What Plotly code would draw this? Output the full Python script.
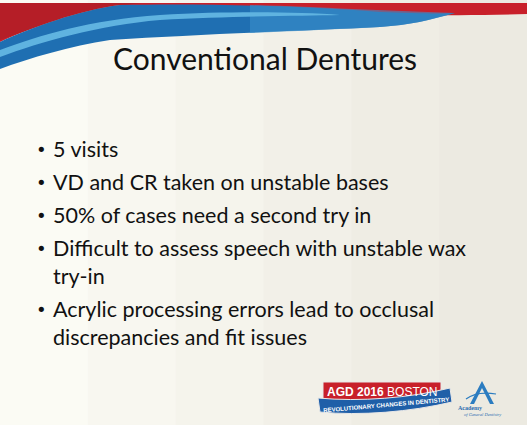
import plotly.graph_objects as go

# ---- slide content ----
title_text = "Conventional Dentures"
bullet_items = [
    ["5 visits"],
    ["VD and CR taken on unstable bases"],
    ["50% of cases need a second try in"],
    ["Difficult to assess speech with unstable wax", "try-in"],
    ["Acrylic processing errors lead to occlusal", "discrepancies and fit issues"],
]
logo_main = ["AGD 2016", "BOSTON"]
logo_ribbon = "REVOLUTIONARY CHANGES IN DENTISTRY"
academy_lines = ["Academy", "of General Dentistry"]

W, H = 527, 425
FONT = "Lato"

fig = go.Figure()

shapes = []
# background gradient (left lighter, right greyer)
bg_cols = ["#fbfbf4", "#f8f7f0", "#f5f4ec", "#f2f0e8", "#efede4", "#eceae1"]
n = len(bg_cols)
for i, c in enumerate(bg_cols):
    shapes.append(dict(type="rect", x0=i * W / n, x1=(i + 1) * W / n + 1, y0=0, y1=H,
                       fillcolor=c, line=dict(width=0), layer="below"))

# red band
shapes.append(dict(type="path",
                   path="M0,3 L527,3 L527,14 C470,16 420,15 380,14 C300,12 200,4 120,5 C80,10 30,28 0,42 Z",
                   fillcolor="#c8202a", line=dict(width=0), layer="below"))
shapes.append(dict(type="path",
                   path="M0,3 L140,3 C100,8 40,25 0,40 Z",
                   fillcolor="#a81e26", opacity=0.6, line=dict(width=0), layer="below"))
# blue band
shapes.append(dict(type="path",
                   path="M0,42 C30,28 80,10 120,5 C200,3 300,6 380,12 C410,13 440,14 455,13 "
                        "C430,20 410,25 380,27 C300,31 200,34 110,40 C70,46 30,58 0,69 Z",
                   fillcolor="#1f6fb2", line=dict(width=0), layer="below"))
shapes.append(dict(type="path",
                   path="M250,5 C320,7 380,11 455,13 C430,20 410,25 380,27 C330,30 290,31 250,33 Z",
                   fillcolor="#3a8fcc", opacity=0.6, line=dict(width=0), layer="below"))
# light blue stripe
shapes.append(dict(type="path",
                   path="M0,50 C40,35 90,20 160,15 C230,11 300,12 340,15 C300,16 230,16 160,20 C100,25 40,42 0,57 Z",
                   fillcolor="#5fb3e0", line=dict(width=0), layer="below"))

# AGD logo: red box
shapes.append(dict(type="rect", x0=323, x1=441, y0=382, y1=402,
                   fillcolor="#c8202a", line=dict(color="#e8e8e8", width=1)))
# blue ribbon
shapes.append(dict(type="path",
                   path="M318,398 C360,402 410,398 450,388 L452,402 C410,412 360,416 320,412 Z",
                   fillcolor="#1f5fa8", line=dict(color="#e8e8e8", width=1)))
# Academy "A" mark
shapes.append(dict(type="path",
                   path="M482,381 L470,404 L474,404 L482,388 L490,404 L494,404 Z",
                   fillcolor="#2b7cc0", line=dict(width=0)))
shapes.append(dict(type="path",
                   path="M466,399 C474,393 484,392 496,394",
                   line=dict(color="#2b7cc0", width=1.2)))

annotations = []
annotations.append(dict(x=265, y=58, text=title_text, showarrow=False,
                        xanchor="center", yanchor="middle",
                        font=dict(family=FONT, size=30, color="#111111")))

# bullets
bullet_gap = 33
wrap_gap = 28
y = 149
for item in bullet_items:
    annotations.append(dict(x=34, y=y, text="•", showarrow=False, xanchor="left",
                            yanchor="middle", font=dict(family="DejaVu Sans", size=18, color="#111111")))
    for j, line in enumerate(item):
        annotations.append(dict(x=51, y=y + j * wrap_gap, text=line, showarrow=False,
                                xanchor="left", yanchor="middle",
                                font=dict(family=FONT, size=21.5, color="#111111")))
    y += (len(item) - 1) * wrap_gap + bullet_gap

# logo texts
annotations.append(dict(x=382, y=392, text="<b>" + logo_main[0] + "</b> " + logo_main[1],
                        showarrow=False, xanchor="center", yanchor="middle",
                        font=dict(family="Liberation Sans", size=12, color="white")))
annotations.append(dict(x=386, y=405, text="<b>" + logo_ribbon + "</b>", showarrow=False,
                        xanchor="center", yanchor="middle", textangle=-5,
                        font=dict(family="Liberation Sans", size=6, color="white")))
annotations.append(dict(x=470, y=408, text="<b>" + academy_lines[0] + "</b>", showarrow=False,
                        xanchor="center", yanchor="middle",
                        font=dict(family="Liberation Serif", size=6, color="#2b6cb0")))
annotations.append(dict(x=482, y=414, text="<i>" + academy_lines[1] + "</i>", showarrow=False,
                        xanchor="center", yanchor="middle",
                        font=dict(family="Liberation Serif", size=4.5, color="#2b6cb0")))

fig.update_layout(
    width=W, height=H,
    margin=dict(l=0, r=0, t=0, b=0),
    paper_bgcolor="#f5f4ec", plot_bgcolor="#f5f4ec",
    xaxis=dict(range=[0, W], visible=False, fixedrange=True),
    yaxis=dict(range=[H, 0], visible=False, fixedrange=True),
    shapes=shapes, annotations=annotations, showlegend=False,
)

fig.write_html("out.html", config={"displayModeBar": False},
               post_script="document.body.style.margin='0';document.body.style.overflow='hidden';")
